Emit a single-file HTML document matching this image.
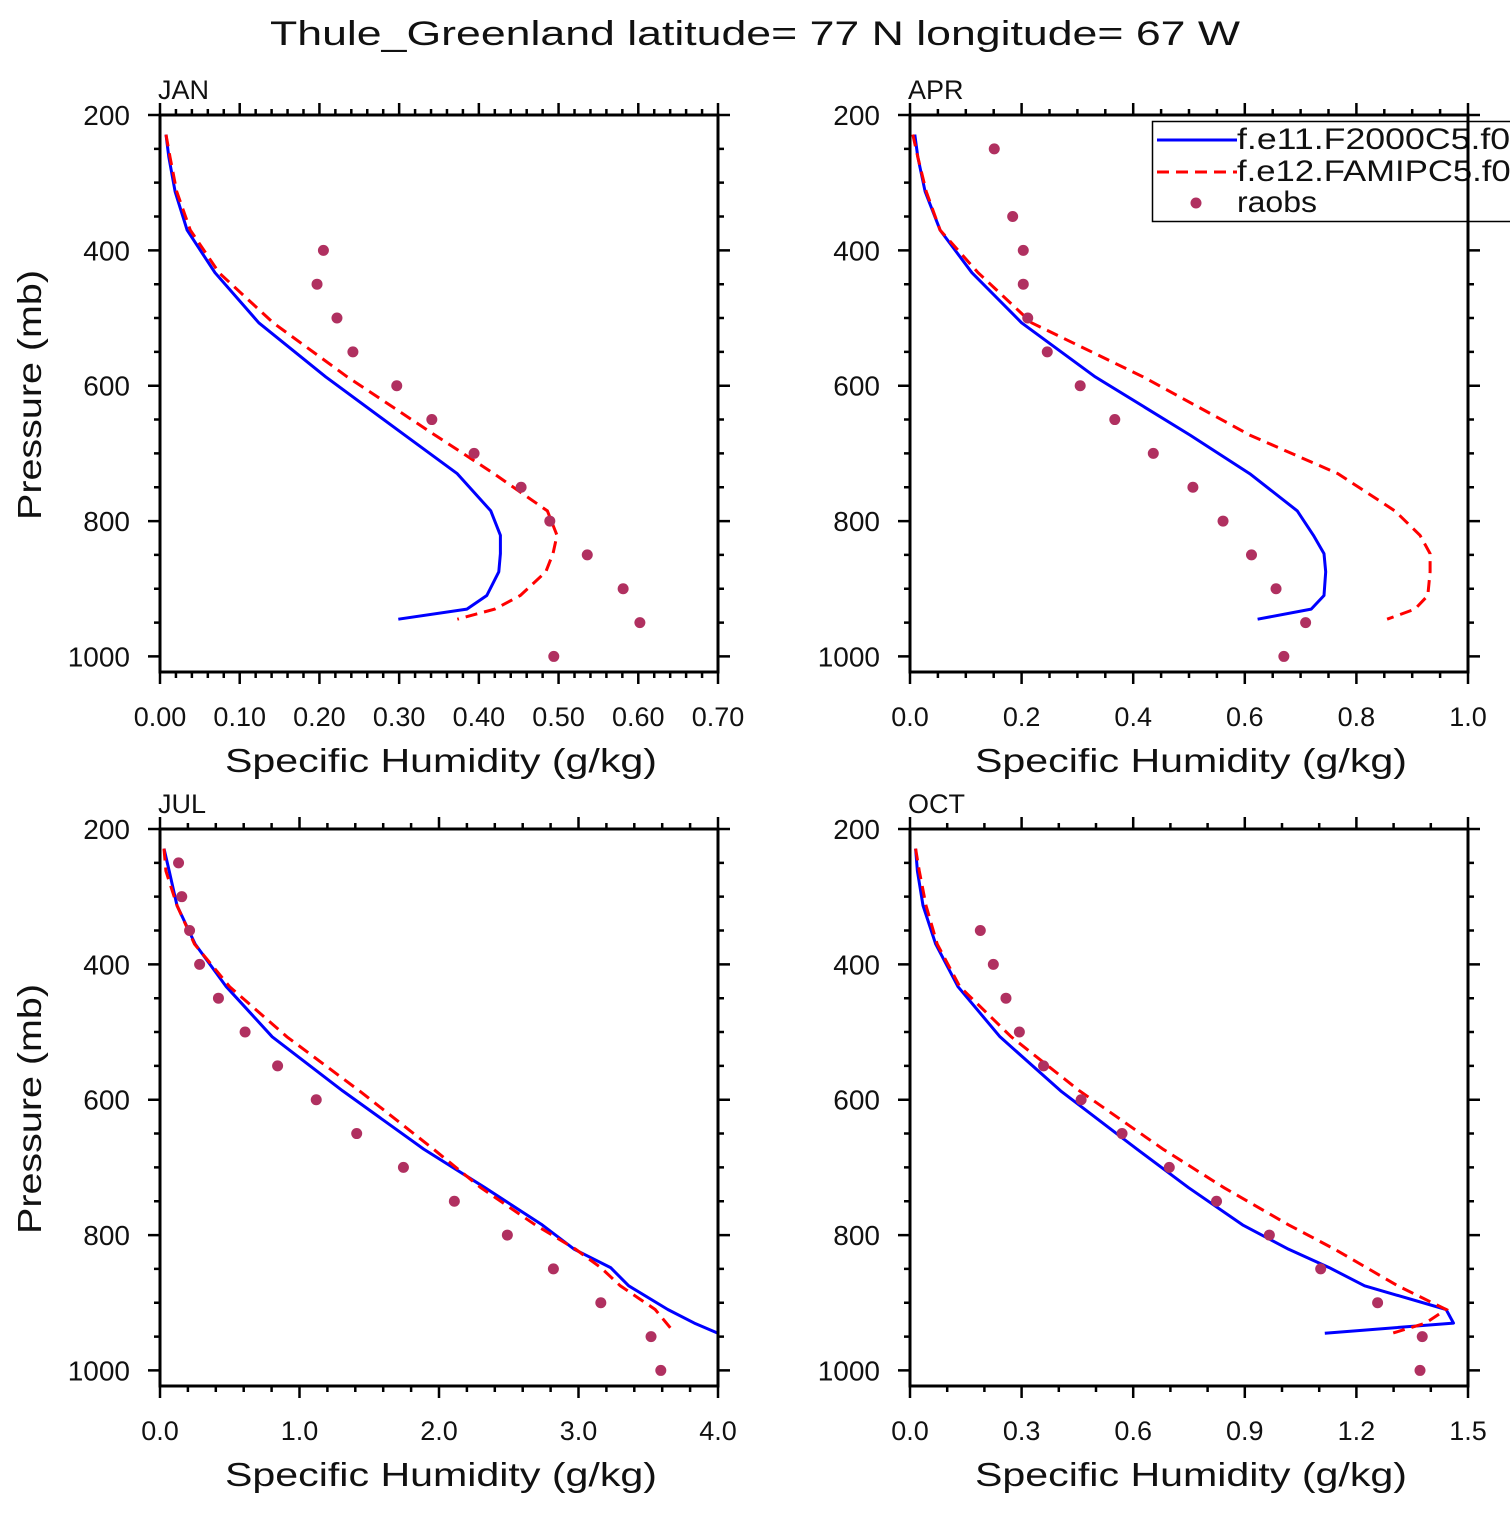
<!DOCTYPE html>
<html><head><meta charset="utf-8"><style>
html,body{margin:0;padding:0;background:#fff;}
svg text{font-family:"Liberation Sans","DejaVu Sans",sans-serif;fill:#111;}
</style></head><body>
<svg id="fig" xmlns="http://www.w3.org/2000/svg" width="1510" height="1510" viewBox="0 0 1510 1510">
<rect width="1510" height="1510" fill="#fff"/>
<text x="270" y="45" font-size="34" textLength="970" lengthAdjust="spacingAndGlyphs">Thule_Greenland  latitude= 77 N longitude= 67 W</text>
</svg>
<script>
const levels = [229,262,313,370,433,507,587,673,730,785,821,848,875,910,930,945];
const obsLevels = [250,300,350,400,450,500,550,600,650,700,750,800,850,900,950,1000];
const pTicks = [200,400,600,800,1000];
const janBlue = [.0075,.011,.019,.034,.069,.124,.208,.307,.373,.415,.427,.427,.425,.410,.385,.299];
const janRed  = [.0075,.0125,.021,.038,.074,.142,.235,.345,.419,.486,.498,.493,.484,.452,.420,.373];
const janObs  = [null,null,null,.205,.197,.222,.242,.297,.341,.394,.453,.489,.536,.581,.602,.494];
const aprBlue = [.0086,.014,.027,.054,.111,.200,.332,.502,.609,.694,.723,.742,.745,.742,.719,.623];
const aprRed  = [.005,.014,.029,.054,.122,.218,.418,.609,.767,.869,.914,.932,.932,.928,.905,.855];
const aprObs  = [.151,null,.184,.203,.203,.211,.246,.305,.367,.436,.507,.561,.612,.656,.709,.670];
const julBlue = [.029,.066,.122,.252,.475,.804,1.31,1.89,2.33,2.74,2.97,3.23,3.36,3.64,3.83,4.0];
const julRed  = [.029,.042,.122,.247,.499,.91,1.43,1.96,2.30,2.69,2.98,3.16,3.30,3.55,3.63,3.69];
const julObs  = [.133,.156,.212,.284,.419,.610,.843,1.12,1.41,1.745,2.11,2.49,2.82,3.16,3.52,3.59];
const octBlue = [.015,.020,.035,.069,.129,.242,.405,.610,.749,.894,1.018,1.127,1.222,1.441,1.461,1.115];
const octRed  = [.015,.025,.043,.073,.134,.272,.456,.680,.844,1.018,1.142,1.227,1.311,1.441,1.386,1.297];
const octObs  = [null,null,.189,.224,.258,.294,.359,.460,.570,.697,.824,.966,1.104,1.257,1.377,1.371];
const janXTicks = ["0.00","0.10","0.20","0.30","0.40","0.50","0.60","0.70"];
const aprXTicks = ["0.0","0.2","0.4","0.6","0.8","1.0"];
const julXTicks = ["0.0","1.0","2.0","3.0","4.0"];
const octXTicks = ["0.0","0.3","0.6","0.9","1.2","1.5"];

const NS="http://www.w3.org/2000/svg";
const svg=document.getElementById('fig');
function mk(tag,attrs,parent){const e=document.createElementNS(NS,tag);for(const k in attrs)e.setAttribute(k,attrs[k]);(parent||svg).appendChild(e);return e;}

function panel(cfg){
  const g=mk('g',{});
  
  
  const x0=cfg.x0,x1=cfg.x0+558,top=cfg.top,bot=cfg.top+557;
  const X=v=>x0+v/cfg.xmax*(x1-x0);
  const Y=p=>top+(p-200)/823*(bot-top);
  let tp='';
  for(let p=200;p<=1020;p+=50){const maj=(p%200===0);const L=maj?12:6;const y=Y(p);
    tp+=`M${x0},${y}h${-L}M${x1},${y}h${L}`;}
  const nMin=Math.round(cfg.xmax/cfg.minor);
  const ratio=Math.round(cfg.major/cfg.minor);
  for(let i=0;i<=nMin;i++){const x=X(i*cfg.minor);const L=(i%ratio===0)?12:6;
    tp+=`M${x},${bot}v${L}M${x},${top}v${-L}`;}
  const t=mk('path',{d:tp,stroke:'#000','stroke-width':2.5,fill:'none'},g);
  
  
  pTicks.forEach(p=>{const e=mk('text',{x:x0-30,y:Y(p)+10,'font-size':28,'text-anchor':'end'},g);e.textContent=String(p);
    
    });
  cfg.xticks.forEach((s,i)=>{const e=mk('text',{x:X(i*cfg.major),y:bot+54,'font-size':27,'text-anchor':'middle'},g);e.textContent=s;
    
    });
  const xt=mk('text',{x:225+(x0-160),y:bot+100,'font-size':33,textLength:432,lengthAdjust:'spacingAndGlyphs'},g);
  xt.textContent='Specific Humidity (g/kg)';
  
  
  if(cfg.ytitle){const cy=top+280;const yt=mk('text',{x:0,y:0,'font-size':33,'text-anchor':'middle',textLength:250,lengthAdjust:'spacingAndGlyphs',transform:`translate(41,${cy}) rotate(-90)`},g);
    yt.textContent='Pressure (mb)';
    
    }
  const lab=mk('text',{x:x0-2,y:top-16,'font-size':27},g);lab.textContent=cfg.label;
  
  
  const pts=arr=>arr.map((v,i)=>`${X(v).toFixed(1)},${Y(levels[i]).toFixed(1)}`).join(' ');
  const b=mk('polyline',{points:pts(cfg.blue),fill:'none',stroke:'#0000ff','stroke-width':3,'stroke-linejoin':'round'},g);
  
  
  const r=mk('polyline',{points:pts(cfg.red),fill:'none',stroke:'#ff0000','stroke-width':3,'stroke-dasharray':'12 7'},g);
  
  
  cfg.obs.forEach((v,i)=>{if(v==null)return;const c=mk('circle',{cx:X(v),cy:Y(obsLevels[i]),r:5.5,fill:'#b03060'},g);
    
    });
  const f=mk('rect',{x:x0,y:top,width:x1-x0,height:bot-top,fill:'none',stroke:'#000','stroke-width':3},g);
  
  
  return {X,Y};
}
panel({name:'jan',label:'JAN',x0:160,top:115,xmax:0.7,major:0.1,minor:0.02,xticks:janXTicks,blue:janBlue,red:janRed,obs:janObs,ytitle:true});
panel({name:'apr',label:'APR',x0:910,top:115,xmax:1.0,major:0.2,minor:0.05,xticks:aprXTicks,blue:aprBlue,red:aprRed,obs:aprObs,ytitle:false});
panel({name:'jul',label:'JUL',x0:160,top:829,xmax:4.0,major:1.0,minor:0.2,xticks:julXTicks,blue:julBlue,red:julRed,obs:julObs,ytitle:true});
panel({name:'oct',label:'OCT',x0:910,top:829,xmax:1.5,major:0.3,minor:0.1,xticks:octXTicks,blue:octBlue,red:octRed,obs:octObs,ytitle:false});
const lg=mk('g',{});


mk('rect',{x:1152.5,y:121.5,width:370,height:100,fill:'#fff',stroke:'#000','stroke-width':1.5},lg);
mk('line',{x1:1157,y1:140,x2:1237,y2:140,stroke:'#0000ff','stroke-width':3},lg);
mk('line',{x1:1157,y1:172,x2:1237,y2:172,stroke:'#ff0000','stroke-width':3,'stroke-dasharray':'12 7'},lg);
mk('circle',{cx:1196,cy:203,r:5.5,fill:'#b03060'},lg);
[['f.e11.F2000C5.f09',149,293],['f.e12.FAMIPC5.f09',181,293],['raobs',212,80]].forEach(([s,y,w])=>{const e=mk('text',{x:1237,y:y,'font-size':30,textLength:w,lengthAdjust:'spacingAndGlyphs'},lg);e.textContent=s;
  
  });
mk('line',{x1:1468,y1:115,x2:1468,y2:230,stroke:'#000','stroke-width':3},lg);
</script>
</body></html>
